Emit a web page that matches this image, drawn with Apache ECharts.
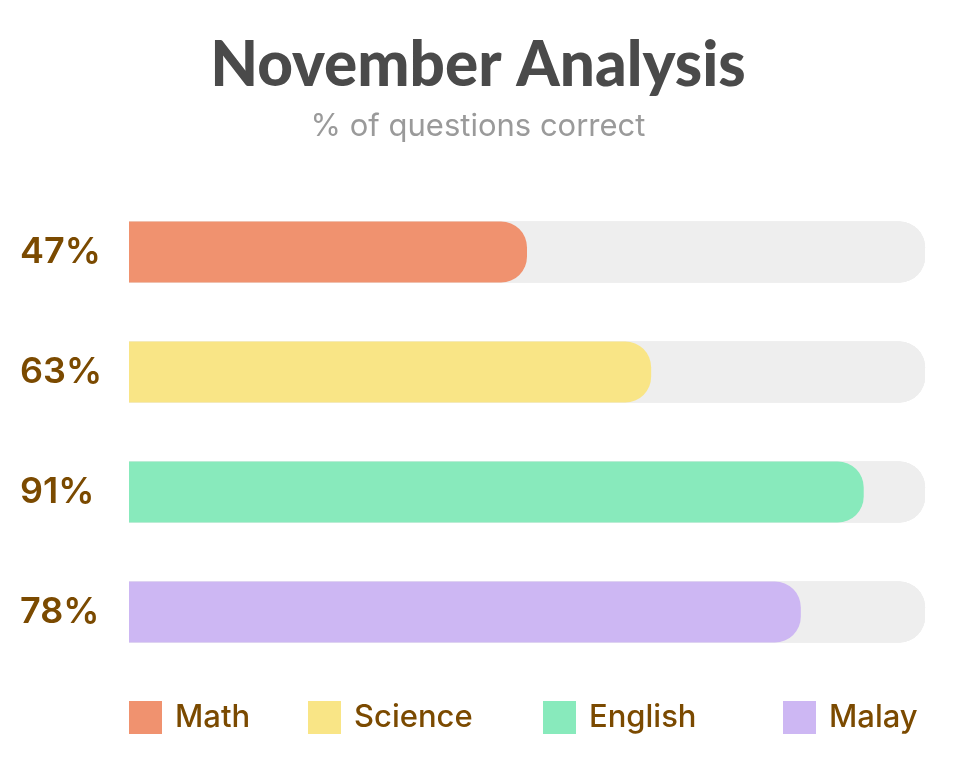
<!DOCTYPE html>
<html>
<head>
<meta charset="utf-8">
<script src="https://cdn.jsdelivr.net/npm/echarts@6/dist/echarts.min.js"></script>
<style>
html,body{margin:0;padding:0;background:#fff;}
#chart{width:956px;height:772px;}
</style>
</head>
<body>
<div id="chart"></div>
<script>
// Data
var subjects = ['Math', 'Science', 'English', 'Malay'];
var percentLabels = ['47%', '63%', '91%', '78%'];
// bar lengths as drawn in the picture (share of the full track, %)
var barLengths = [50, 65.6, 92.3, 84.4];
var colors = ['#F0926F', '#F9E586', '#88EABC', '#CDB7F3'];

var chart = echarts.init(document.getElementById('chart'), null, {renderer: 'canvas'});

var series = subjects.map(function (name, i) {
  var d = subjects.map(function (_, j) { return j === i ? barLengths[i] : '-'; });
  return {
    name: name,
    type: 'bar',
    stack: 'all',
    data: d,
    barWidth: 61,
    itemStyle: {color: colors[i], borderRadius: [0, 26, 26, 0]},
    showBackground: true,
    backgroundStyle: {color: '#EEEEEE', borderRadius: [0, 26, 26, 0]},
    emphasis: {disabled: true}
  };
});

var legendLefts = [129, 308, 543, 783];
var legends = subjects.map(function (name, i) {
  return {
    data: [name],
    left: legendLefts[i],
    top: 701,
    padding: 0,
    itemWidth: 33,
    itemHeight: 33,
    itemGap: 12,
    icon: 'rect',
    selectedMode: false,
    textStyle: {color: '#7B4A00', fontSize: 31, fontFamily: 'Inter', fontWeight: 500, padding: [2, 0, 0, 8]}
  };
});

chart.setOption({
  backgroundColor: '#ffffff',
  animation: false,
  title: {
    text: 'November Analysis',
    subtext: '% of questions correct',
    left: 'center',
    top: 30,
    itemGap: 14,
    textStyle: {color: '#4A4A4A', fontSize: 62, fontWeight: 900, fontFamily: 'Lato'},
    subtextStyle: {color: '#9A9A9A', fontSize: 31, fontFamily: 'Inter'}
  },
  legend: legends,
  grid: {left: 129, right: 31, top: 192, height: 480, containLabel: false},
  xAxis: {
    type: 'value', min: 0, max: 100, show: false
  },
  yAxis: {
    type: 'category',
    data: subjects,
    inverse: true,
    axisLine: {show: false},
    axisTick: {show: false},
    splitLine: {show: false},
    axisLabel: {
      margin: 109,
      align: 'left',
      color: '#7B4A00',
      fontSize: 36,
      fontWeight: 600,
      fontFamily: 'Inter',
      padding: [6, 0, 0, 0],
      formatter: function (v, idx) { return percentLabels[idx]; }
    }
  },
  series: series
});
</script>
</body>
</html>
